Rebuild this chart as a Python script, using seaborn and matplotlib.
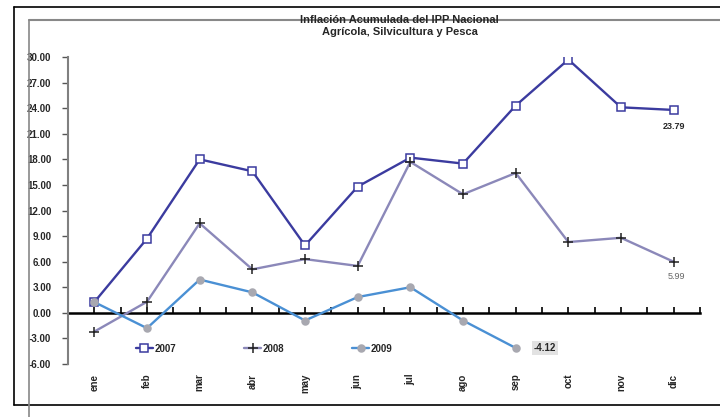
import numpy as np
import pandas as pd
import matplotlib
matplotlib.use("Agg")
import matplotlib.pyplot as plt
import seaborn as sns
from matplotlib.lines import Line2D

# Data
months = ['ene', 'feb', 'mar', 'abr', 'may', 'jun', 'jul', 'ago', 'sep', 'oct', 'nov', 'dic']
ipp_2007 = [1.26, 8.7, 18.0, 16.6, 7.9, 14.8, 18.2, 17.5, 24.3, 29.7, 24.1, 23.79]
ipp_2008 = [-2.2, 1.3, 10.5, 5.1, 6.3, 5.5, 17.7, 13.9, 16.4, 8.3, 8.8, 5.99]
ipp_2009 = [1.26, -1.8, 3.9, 2.4, -0.9, 1.85, 3.0, -0.9, -4.12]
yticks = [-6, -3, 0, 3, 6, 9, 12, 15, 18, 21, 24, 27, 30]

series = {'2007': ipp_2007, '2008': ipp_2008, '2009': ipp_2009}
rows = []
for year, vals in series.items():
    for i, v in enumerate(vals):
        rows.append({'mes': i, 'valor': v, 'anio': year})
df = pd.DataFrame(rows)

sns.set_style("white")
plt.rcParams['font.family'] = ['Liberation Sans', 'DejaVu Sans']

fig = plt.figure(figsize=(7.2, 4.17), dpi=100)
ax = fig.add_axes([68 / 720, 1 - 364 / 417, 632 / 720, 307 / 417])

styles = {
    '2007': dict(color='#3b3b9f', marker='s', mfc='white', mec='#3b3b9f', ms=5.5),
    '2008': dict(color='#8b88b9', marker='+', mfc='none', mec='#222222', ms=6.5),
    '2009': dict(color='#4a90d4', marker='o', mfc='#a8a8b0', mec='#a8a8b0', ms=5),
}
for year, st in styles.items():
    sns.lineplot(data=df[df['anio'] == year], x='mes', y='valor', ax=ax,
                 color=st['color'], lw=1.7, marker=st['marker'],
                 markerfacecolor=st['mfc'], markeredgecolor=st['mec'],
                 markersize=st['ms'], markeredgewidth=1.1, label=year)

ax.set_xlim(-0.5, 11.5)
ax.set_ylim(-6, 30)
ax.set_yticks(yticks)
ax.set_yticklabels([f'{t:.2f}' for t in yticks], fontsize=7, fontweight='bold')
ax.tick_params(axis='y', direction='out', length=4, width=1, color='#555555', pad=8, left=True)
ax.set_xticks(range(len(months)))
ax.set_xticklabels(months, rotation=90, fontsize=7, fontweight='bold')
ax.tick_params(axis='x', length=0, pad=7)
ax.set_xlabel('')
ax.set_ylabel('')
for s in ['top', 'right', 'bottom']:
    ax.spines[s].set_visible(False)
ax.spines['left'].set_color('#808080')
ax.spines['left'].set_linewidth(1.5)

# category axis crossing at zero
sec = ax.secondary_xaxis(6 / 36)
sec.set_xticks(np.arange(0, 11.51, 0.5))
sec.set_xticklabels([])
sec.tick_params(direction='in', length=4, width=1.2, color='black')
sec.spines['bottom'].set_linewidth(1.8)
sec.spines['bottom'].set_color('black')

# value labels
ax.text(11, 21.9, '23.79', ha='center', va='center', fontsize=6.5, fontweight='bold')
ax.text(11.05, 4.3, '5.99', ha='center', va='center', fontsize=6.5, color='#666666')
ax.text(8.35, -4.12, '-4.12', ha='left', va='center', fontsize=7, fontweight='bold',
        bbox=dict(boxstyle='square,pad=0.2', fc='#e2e2e2', ec='none'))

ax.legend(loc='center', bbox_to_anchor=(0.31, 0.05), ncol=3, frameon=False,
          prop={'weight': 'bold', 'size': 7}, handlelength=1.8,
          handletextpad=0.1, columnspacing=7)

fig.text(0.555, 0.965, 'Inflación Acumulada del IPP Nacional\nAgrícola, Silvicultura y Pesca',
         ha='center', va='top', fontsize=8, fontweight='bold', linespacing=1.3)

# frame lines
fig.add_artist(Line2D([14 / 720, 1], [1 - 7 / 417] * 2, color='black', lw=1.2))
fig.add_artist(Line2D([14 / 720] * 2, [1 - 7 / 417, 1 - 405 / 417], color='black', lw=1.2))
fig.add_artist(Line2D([14 / 720, 1], [1 - 405 / 417] * 2, color='black', lw=1.2))
fig.add_artist(Line2D([29 / 720, 1], [1 - 20 / 417] * 2, color='#888888', lw=1.5))
fig.add_artist(Line2D([29 / 720] * 2, [1 - 20 / 417, 0], color='#888888', lw=1.2))

fig.savefig('out.png', dpi=100, facecolor='white')
